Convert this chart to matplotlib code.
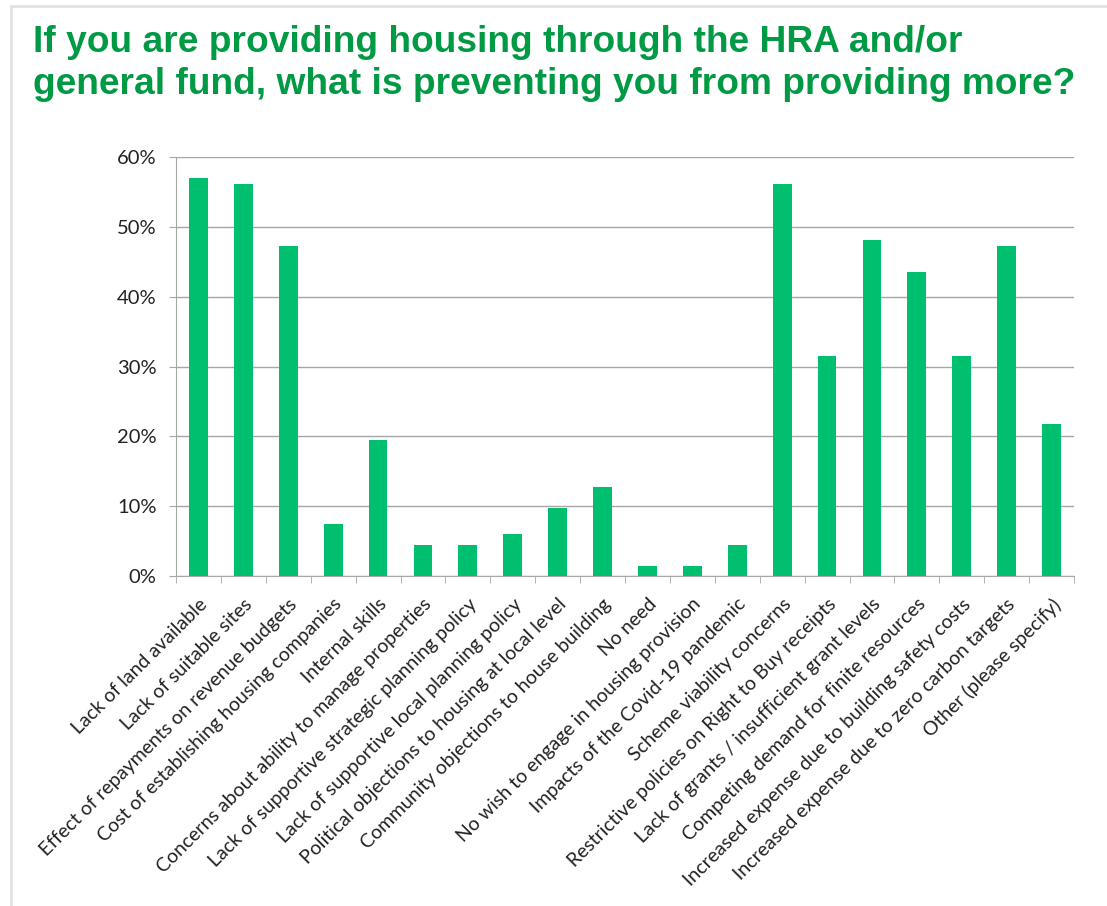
import numpy as np
import matplotlib.pyplot as plt
from matplotlib.lines import Line2D
from matplotlib.ticker import PercentFormatter

categories = [
    'Lack of land available',
    'Lack of suitable sites',
    'Effect of repayments on revenue budgets',
    'Cost of establishing housing companies',
    'Internal skills',
    'Concerns about ability to manage properties',
    'Lack of supportive strategic planning policy',
    'Lack of supportive local planning policy',
    'Political objections to housing at local level',
    'Community objections to house building',
    'No need',
    'No wish to engage in housing provision',
    'Impacts of the Covid-19 pandemic',
    'Scheme viability concerns',
    'Restrictive policies on Right to Buy receipts',
    'Lack of grants / insufficient grant levels',
    'Competing demand for finite resources',
    'Increased expense due to building safety costs',
    'Increased expense due to zero carbon targets',
    'Other (please specify)',
]
values = [57.0, 56.2, 47.2, 7.5, 19.5, 4.5, 4.5, 6.0, 9.7, 12.7,
          1.4, 1.4, 4.5, 56.2, 31.5, 48.1, 43.5, 31.5, 47.2, 21.7]

title_lines = ['If you are providing housing through the HRA and/or',
               'general fund, what is preventing you from providing more?']
GREEN = '#00BF6F'
TITLE_GREEN = '#009A44'
GRID = '#A6A6A6'
W, H = 1107, 906

fig = plt.figure(figsize=(W / 100, H / 100), dpi=100)

# slide frame: top and left edges only
fig.lines.append(Line2D([11 / W, 1], [1 - 6 / H, 1 - 6 / H], transform=fig.transFigure,
                        color='#E2E2E2', linewidth=2))
fig.lines.append(Line2D([11 / W, 11 / W], [0, 1 - 6 / H], transform=fig.transFigure,
                        color='#E2E2E2', linewidth=2))

for i, line in enumerate(title_lines):
    fig.text(33 / W, 1 - (52 + 42 * i) / H, line, ha='left', va='baseline',
             color=TITLE_GREEN, fontsize=26.7, fontweight='bold', family='Liberation Sans')

ax = fig.add_axes([176 / W, 1 - 576 / H, (1074 - 176) / W, (576 - 157) / H])
x = np.arange(len(categories))
ax.bar(x, values, width=0.42, color=GREEN, zorder=3)

ax.set_xlim(-0.5, len(categories) - 0.5)
ax.set_ylim(0, 60)
ax.set_yticks(np.arange(0, 61, 10))
ax.yaxis.set_major_formatter(PercentFormatter(decimals=0))
ax.grid(axis='y', color=GRID, linewidth=1, zorder=0)

ax.set_xticks(x)
ax.set_xticklabels(categories, rotation=45, ha='right', rotation_mode='anchor',
                   family='Lato', fontsize=14, color='#222222')
ax.set_xticks(np.arange(-0.5, len(categories), 1), minor=True)
ax.tick_params(axis='x', which='major', length=0, pad=14)
ax.tick_params(axis='x', which='minor', length=5, color=GRID)
ax.tick_params(axis='y', length=5, pad=9, color=GRID, labelsize=14.5, labelcolor='#222222')
for lab in ax.get_yticklabels():
    lab.set_family('Lato')

for side in ['top', 'right']:
    ax.spines[side].set_visible(False)
for side in ['left', 'bottom']:
    ax.spines[side].set_color(GRID)

fig.savefig('out.png', dpi=100)
